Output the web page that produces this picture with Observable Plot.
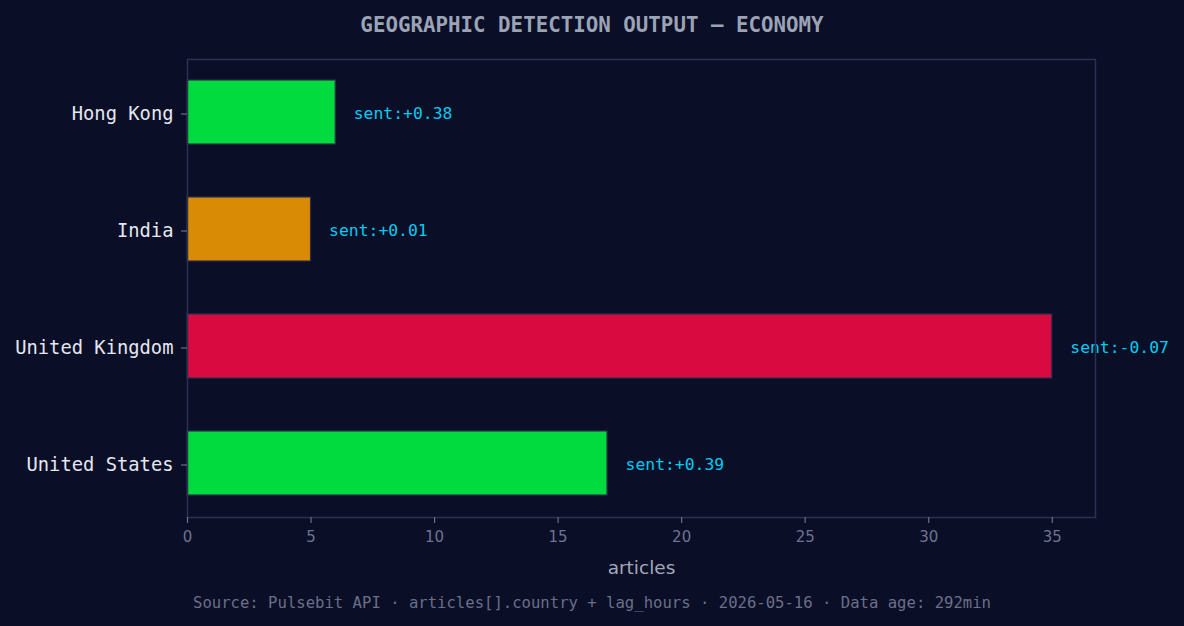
<!DOCTYPE html>
<html>
<head>
<meta charset="utf-8">
<script src="https://cdn.jsdelivr.net/npm/d3@7"></script>
<script src="https://cdn.jsdelivr.net/npm/@observablehq/plot@0.6"></script>
<style>
  html, body { margin: 0; padding: 0; background: #0a0e27; }
  body { width: 1184px; height: 626px; overflow: hidden; position: relative; }
  #title { position: absolute; left: 0; top: 1px; width: 1184px; height: 48px; line-height: 48px;
    text-align: center; font-family: "DejaVu Sans Mono", monospace; font-weight: bold;
    font-size: 20.8px; color: #9ca3b5; }
  #chart { position: absolute; left: 0; top: 48px; }
  #caption { position: absolute; left: 0; top: 590px; width: 1184px; height: 26px; line-height: 26px;
    text-align: center; font-family: "DejaVu Sans Mono", monospace; font-size: 15.6px; color: #6b7088; }
</style>
</head>
<body>
<div id="title">GEOGRAPHIC DETECTION OUTPUT — ECONOMY</div>
<div id="chart"></div>
<div id="caption">Source: Pulsebit API · articles[].country + lag_hours · 2026-05-16 · Data age: 292min</div>
<script>
const countries = ["Hong Kong", "India", "United Kingdom", "United States"];
const articles = [6, 5, 35, 17];
const sentiments = ["+0.38", "+0.01", "-0.07", "+0.39"];
const barColors = ["#01db3d", "#d98b05", "#d80a40", "#01db3d"];
const xTicks = [0, 5, 10, 15, 20, 25, 30, 35];

const data = countries.map((c, i) => ({
  country: c, articles: articles[i], label: "sent:" + sentiments[i], color: barColors[i]
}));

const chart = Plot.plot({
  width: 1184,
  height: 540,
  marginTop: 11,
  marginBottom: 71,
  marginLeft: 187,
  marginRight: 89,
  style: { background: "transparent", overflow: "visible" },
  x: { domain: [0, 36.75], ticks: xTicks },
  y: { domain: countries, paddingInner: 0.45, paddingOuter: 0.175 },
  marks: [
    Plot.barX(data, { x: "articles", y: "country", fill: "color", stroke: "#2a3050", strokeWidth: 1.2 }),
    Plot.text(data, { x: "articles", y: "country", text: "label", dx: 18, dy: 1, textAnchor: "start",
      fill: "#00ccf2", fontSize: 16.4, fontFamily: "DejaVu Sans Mono" }),
    Plot.frame({ stroke: "#2c3150", strokeWidth: 1.5 }),
    Plot.axisX({ ticks: xTicks, tickSize: 6, tickPadding: 8, stroke: "#6b7088", strokeWidth: 1.2,
      fill: "#6e7390", fontSize: 15, fontFamily: "DejaVu Sans",
      label: "articles", labelAnchor: "center", labelArrow: "none", labelOffset: 56 }),
    Plot.axisY({ tickSize: 6, tickPadding: 8, dy: 1.5, stroke: "#6b7088", strokeWidth: 1.2,
      fill: "#e4e7ef", fontSize: 18.8, fontFamily: "DejaVu Sans Mono", label: null })
  ]
});
document.getElementById("chart").appendChild(chart);

// style axis label
d3.select(chart).selectAll("g[aria-label='x-axis label'] text")
  .attr("fill", "#a3a8b8").style("font-size", "18.5px");
</script>
</body>
</html>
